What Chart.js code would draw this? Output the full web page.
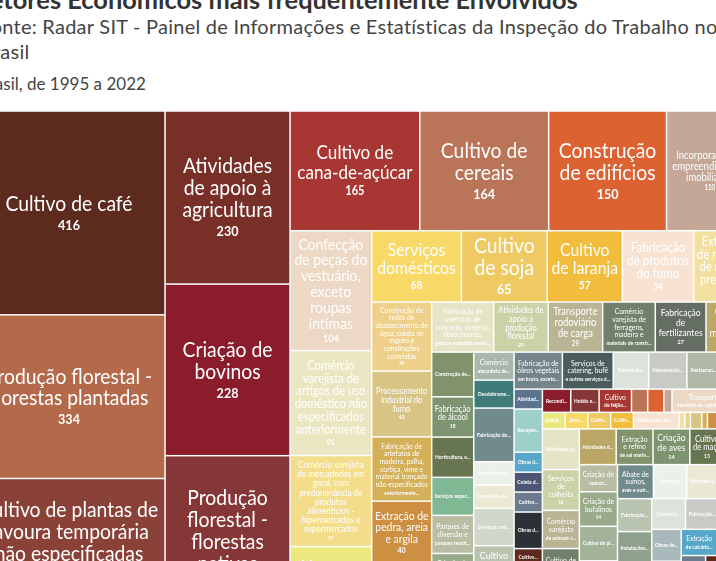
<!DOCTYPE html>
<html>
<head>
<meta charset="utf-8">
<title>Setores Econômicos mais frequentemente Envolvidos</title>
<script src="https://cdn.jsdelivr.net/npm/chart.js"></script>
<style>
  html, body { margin: 0; padding: 0; width: 716px; height: 561px; overflow: hidden; background: #fff; }
  body { position: relative; font-family: Lato, sans-serif; color: #333; }
  #title { position: absolute; left: -24px; top: -16px; font-size: 25.4px; font-weight: bold; white-space: nowrap; color: #333; }
  #sub { position: absolute; left: -20px; top: 14px; font-size: 20px; line-height: 24.5px; letter-spacing: 0.25px; white-space: nowrap; color: #444; }
  #note { position: absolute; left: -22px; top: 73px; font-size: 17px; white-space: nowrap; color: #444; }
  #wrap { position: absolute; left: -27px; top: 111px; width: 780px; height: 514px; }
</style>
</head>
<body>
<div id="title">Setores Econômicos mais frequentemente Envolvidos</div>
<div id="sub">Fonte: Radar SIT - Painel de Informações e Estatísticas da Inspeção do Trabalho no<br>Brasil</div>
<div id="note">Brasil, de 1995 a 2022</div>
<div id="wrap"><canvas id="tree" width="780" height="514"></canvas></div>
<script>
// sectors, in the order the chart lays them out
const sectors = [
  'Cultivo de café',
  'Produção florestal - florestas plantadas',
  'Cultivo de plantas de lavoura temporária não especificadas anteriormente',
  'Atividades de apoio à agricultura',
  'Criação de bovinos',
  'Produção florestal - florestas nativas',
  'Cultivo de cana-de-açúcar',
  'Cultivo de cereais',
  'Construção de edifícios',
  'Incorporação de empreendimentos imobiliários',
  'Confecção de peças do vestuário, exceto roupas íntimas',
  'Comércio varejista de artigos de uso doméstico não especificados anteriormente',
  'Comércio varejista de mercadorias em geral, com predominância de produtos alimentícios - hipermercados e supermercados',
  'Montagem de estruturas metálicas',
  'Serviços domésticos',
  'Cultivo de soja',
  'Cultivo de laranja',
  'Fabricação de produtos do fumo',
  'Extração de minério de metais preciosos',
  'Construção de redes de abastecimento de água, coleta de esgoto e construções correlatas',
  'Processamento industrial do fumo',
  'Fabricação de artefatos de madeira, palha, cortiça, vime e material trançado não especificados anteriormente',
  'Extração de pedra, areia e argila',
  'Cultivo de frutas de lavoura permanente, exceto laranja e uva',
  'Fabricação de artefatos de concreto, cimento, fibrocimento, gesso e materiais semelhantes',
  'Atividades de apoio à produção florestal',
  'Transporte rodoviário de carga',
  'Comércio varejista de ferragens, madeira e materiais de construção',
  'Fabricação de fertilizantes',
  'Cultivo de mandioca',
  'Construção de obras-de-arte especiais',
  'Fabricação de álcool',
  'Horticultura, exceto morango',
  'Serviços especializados para construção',
  'Parques de diversão e parques temáticos',
  'Criação de ovinos, inclusive para produção de lã',
  'Extração de madeira em florestas nativas',
  'Comércio atacadista de madeira e produtos derivados',
  'Desdobramento de madeira',
  'Fabricação de biocombustíveis, exceto álcool',
  'Comércio varejista de combustíveis para veículos automotores',
  'Comércio atacadista de combustíveis sólidos, líquidos e gasosos',
  'Serviços combinados de escritório e apoio administrativo',
  'Cultivo de milho',
  'Criação de equinos',
  'Fabricação de óleos vegetais em bruto, exceto óleo de milho',
  'Serviços de catering, bufê e outros serviços de comida preparada',
  'Fabricação de produtos cerâmicos não-refratários para uso estrutural na construção',
  'Manutenção e reparação de veículos automotores',
  'Restaurantes e similares',
  'Comércio atacadista de produtos alimentícios em geral',
  'Atividades de vigilância e segurança privada',
  'Recuperação de materiais não especificados anteriormente',
  'Obras de urbanização - ruas, praças e calçadas',
  'Coleta de resíduos não-perigosos',
  'Cultivo de algodão herbáceo',
  'Obras de fundações',
  'Cultivo de fumo',
  'Criação de caprinos',
  'Comércio atacadista de cereais e leguminosas beneficiados',
  'Pesca em água doce',
  'Recondicionamento e recuperação de motores para veículos automotores',
  'Hotéis e similares',
  'Cultivo de feijão',
  'Cultivo de arroz',
  'Construção de rodovias e ferrovias',
  'Aluguel de imóveis próprios',
  'Transporte marítimo de cabotagem',
  'Comércio varejista de hortifrutigranjeiros',
  'Comércio atacadista de café em grão',
  'Lanchonetes, casas de chá, de sucos e similares',
  'Limpeza em prédios e em domicílios',
  'Cultivo de cacau',
  'Cultivo de banana',
  'Fabricação de calçados de couro',
  'Extração de carvão mineral',
  'Serrarias com desdobramento de madeira',
  'Abate de reses, exceto suínos',
  'Fabricação de carvão vegetal',
  'Extração de cascalho',
  'Comércio de peças e acessórios para veículos automotores',
  'Atividades paisagísticas',
  'Serviços de colheita',
  'Comércio varejista de animais vivos',
  'Cultivo de eucalipto',
  'Construção de instalações esportivas e recreativas',
  'Atividades de apoio à pecuária',
  'Extração e refino de sal marinho',
  'Criação de aves',
  'Cultivo de maçã',
  'Fabricação de açúcar em bruto',
  'Criação de suínos',
  'Criação de bufalinos',
  'Cultivo de pimenta-do-reino',
  'Beneficiamento de arroz',
  'Fabricação de laticínios',
  'Abate de suínos, aves e outros pequenos animais',
  'Comércio atacadista de animais vivos',
  'Extração de granito e beneficiamento associado',
  'Cultivo de seringueira',
  'Fabricação de móveis com predominância de madeira',
  'Instalações elétricas',
  'Transporte rodoviário coletivo de passageiros',
  'Cultivo de mamão',
  'Comércio varejista de produtos alimentícios em geral',
  'Fabricação de embalagens de madeira',
  'Cultivo de erva-mate',
  'Obras de terraplenagem',
  'Criação de camarões em água salgada',
  'Pesca de peixes em água salgada',
  'Extração de calcário e dolomita',
  'Fabricação de móveis de outros materiais',
  'Cultivo de açaí',
  'Produção de carvão vegetal - florestas plantadas',
  'Moagem de trigo e fabricação de derivados',
  'Confecção de roupas profissionais',
  'Comércio varejista de bebidas',
  'Serviços de poda de árvores'
];

// number of operations per sector
const operacoes = [
  416, 334, 299, 230, 228, 225, 165, 164, 150, 110,
  104, 91, 79, 68, 68, 65, 57, 54, 45, 44,
  42, 41, 40, 39, 33, 29, 29, 28, 27, 25,
  20, 18, 18, 17, 17, 16, 16, 12, 12, 23,
  10, 10, 16, 17, 17, 19, 20, 14, 15, 13,
  13, 6, 13, 6, 6, 6, 11, 5, 5, 8,
  5, 7, 7, 8, 4, 4, 2, 16, 2, 2,
  4, 4, 4, 4, 8, 1, 1, 2, 1, 2,
  6, 16, 16, 15, 15, 15, 14, 14, 14, 13,
  11, 11, 14, 14, 13, 13, 13, 12, 12, 12,
  12, 12, 11, 11, 11, 11, 11, 10, 10, 10,
  10, 10, 9, 9, 9, 9, 9, 8
];

const palette = [
  '#5d2a1e', '#b3694a', '#8a4238', '#772f27', '#8a1c2c', '#853637', '#a83733', '#ba7558',
  '#dc6232', '#c4a797', '#ecd8c5', '#ebe6c2', '#f4dd8a', '#eae87f', '#f8d866', '#efca63',
  '#f2bd3d', '#f8e3d2', '#f2e0a1', '#efd08a', '#d8c585', '#d4b059', '#cd8f42', '#eeeed0',
  '#e6e4c6', '#cbd2a8', '#b8b494', '#727f6a', '#646e63', '#bba765', '#80936a', '#7d9470',
  '#687551', '#7fb892', '#b8bda3', '#9aab8c', '#a3b39a', '#a9b8ad', '#3f7b79', '#718a8c',
  '#ebf0ea', '#ebe9d5', '#d0d8c9', '#b9c4b0', '#8fa08c', '#73848a', '#4b5c5f', '#dce3dc',
  '#c7cac5', '#b0b8a8', '#a9b8bb', '#5c7390', '#9dd0cb', '#56a7c8', '#4b5574', '#6d7b8f',
  '#2b3134'
];

const W = 780, H = 514;
const FONT = 'Lato, sans-serif';
const SX = 0.9; // labels drawn a little narrower

// squarified treemap layout (rows kept while aspect ratio improves)
function squarify(vals, x0, y0, x1, y1) {
  const out = [];
  let value = vals.reduce((a, b) => a + b, 0);
  let i0 = 0;
  const n = vals.length;
  while (i0 < n) {
    const dx = x1 - x0, dy = y1 - y0;
    let i1 = i0;
    let sum = vals[i1++];
    let minV = sum, maxV = sum;
    const alpha = Math.max(dy / dx, dx / dy) / value;
    let beta = sum * sum * alpha;
    let minRatio = Math.max(maxV / beta, beta / minV);
    for (; i1 < n; ++i1) {
      const v = vals[i1];
      sum += v;
      if (v < minV) minV = v;
      if (v > maxV) maxV = v;
      beta = sum * sum * alpha;
      const r = Math.max(maxV / beta, beta / minV);
      if (r > minRatio) { sum -= v; break; }
      minRatio = r;
    }
    if (dx < dy) {
      const yb = y0 + dy * sum / value;
      let x = x0;
      for (let i = i0; i < i1; i++) {
        const xr = x + dx * vals[i] / sum;
        out[i] = {x0: x, y0: y0, x1: xr, y1: yb};
        x = xr;
      }
      y0 = yb;
    } else {
      const xb = x0 + dx * sum / value;
      let y = y0;
      for (let i = i0; i < i1; i++) {
        const yr = y + dy * vals[i] / sum;
        out[i] = {x0: x0, y0: y, x1: xb, y1: yr};
        y = yr;
      }
      x0 = xb;
    }
    value -= sum;
    i0 = i1;
  }
  return out;
}

class CellElement extends Chart.Element {
  draw(ctx) {
    const o = this.options;
    const g = o.borderWidth / 2;
    ctx.fillStyle = o.backgroundColor;
    ctx.fillRect(this.x + g, this.y + g, Math.max(0, this.w - 2 * g), Math.max(0, this.h - 2 * g));
  }
}
CellElement.id = 'cell';
CellElement.defaults = { backgroundColor: '#ccc', borderWidth: 1.5 };

const tw = (ctx, t) => ctx.measureText(t).width * SX;

function put(ctx, t, x, y) {
  ctx.save();
  ctx.translate(x, y);
  ctx.scale(SX, 1);
  ctx.fillText(t, 0, 0);
  ctx.restore();
}

function wrap(ctx, words, maxW) {
  const lines = [];
  let cur = '';
  for (const w of words) {
    const t = cur ? cur + ' ' + w : w;
    if (!cur || tw(ctx, t) <= maxW) cur = t;
    else { lines.push(cur); cur = w; }
  }
  if (cur) lines.push(cur);
  return lines;
}

function ellipsize(ctx, text, maxW) {
  if (tw(ctx, text) <= maxW) return text;
  for (let k = text.length - 1; k > 0; k--) {
    const t = text.slice(0, k).trimEnd() + '...';
    if (tw(ctx, t) <= maxW) return t;
  }
  return null;
}

function drawLabel(ctx, c, name, value) {
  const maxW = c.w - 2 * Math.min(6, Math.max(3, c.w * 0.05)), maxH = c.h - 8;
  if (maxW < 14 || maxH < 6) return;
  const words = name.split(' ');
  const cx = c.x + c.w / 2, cy = c.y + c.h / 2;
  ctx.save();
  ctx.fillStyle = '#fff';
  ctx.textAlign = 'center';
  ctx.textBaseline = 'middle';
  for (let f = 21.5; f >= 7.5; f -= 0.5) {
    ctx.font = f + 'px ' + FONT;
    if (words.some(w => tw(ctx, w) > maxW)) continue;
    const lines = wrap(ctx, words, maxW);
    const lh = f * 1.02, vf = f * 0.65;
    const total = lines.length * lh + vf * 1.3;
    if (total > maxH) continue;
    let y = cy - total / 2 + lh / 2;
    for (const l of lines) { put(ctx, l, cx, y); y += lh; }
    ctx.font = 'bold ' + vf + 'px ' + FONT;
    put(ctx, String(value), cx, y - lh / 2 + vf * 0.75);
    ctx.restore();
    return;
  }
  const f = 7.5, lh = 7.7, sf = 5.5;
  ctx.font = f + 'px ' + FONT;
  const fits = words.every(w => tw(ctx, w) <= maxW);
  const nAvail = Math.floor((maxH - sf * 1.3) / lh);
  if (fits && nAvail >= 1) {
    const lines = wrap(ctx, words, maxW);
    const shown = lines.slice(0, nAvail);
    const rest = lines.slice(nAvail).join(' ');
    const total = shown.length * lh + sf * 1.3;
    let y = cy - total / 2 + lh / 2;
    for (const l of shown) { put(ctx, l, cx, y); y += lh; }
    ctx.font = 'bold ' + sf + 'px ' + FONT;
    const t = ellipsize(ctx, rest + '...', maxW);
    if (t) put(ctx, t, cx, y - lh / 2 + sf * 0.8);
  } else if (maxH >= sf + 1) {
    ctx.font = 'bold ' + sf + 'px ' + FONT;
    const t = ellipsize(ctx, name, maxW);
    if (t) put(ctx, t, cx, cy);
  }
  ctx.restore();
}

class TreemapController extends Chart.DatasetController {
  update(mode) {
    const meta = this._cachedMeta;
    this.updateElements(meta.data, 0, meta.data.length, mode);
  }
  updateElements(cells, start, count, mode) {
    const {xScale, yScale} = this._cachedMeta;
    const boxes = squarify(this.getDataset().data, xScale.min, yScale.min, xScale.max, yScale.max);
    for (let i = start; i < start + count; i++) {
      const b = boxes[i];
      const px0 = xScale.getPixelForValue(b.x0), px1 = xScale.getPixelForValue(b.x1);
      const py0 = yScale.getPixelForValue(b.y0), py1 = yScale.getPixelForValue(b.y1);
      Object.assign(cells[i], {
        x: Math.min(px0, px1), y: Math.min(py0, py1),
        w: Math.abs(px1 - px0), h: Math.abs(py1 - py0),
        options: this.resolveDataElementOptions(i, mode)
      });
    }
  }
  draw() {
    const ctx = this.chart.ctx;
    const meta = this._cachedMeta;
    const labels = this.chart.data.labels;
    const data = this.getDataset().data;
    meta.data.forEach(c => c.draw(ctx));
    meta.data.forEach((c, i) => drawLabel(ctx, c, labels[i], data[i]));
  }
}
TreemapController.id = 'treemap';
TreemapController.defaults = { datasetElementType: false, dataElementType: 'cell' };

Chart.register(CellElement, TreemapController);

new Chart(document.getElementById('tree'), {
  type: 'treemap',
  data: {
    labels: sectors,
    datasets: [{
      label: 'Operações',
      data: operacoes,
      backgroundColor: sectors.map((s, i) => palette[i % palette.length])
    }]
  },
  options: {
    responsive: false,
    animation: false,
    events: [],
    layout: { padding: 0 },
    plugins: { legend: { display: false }, tooltip: { enabled: false } },
    scales: {
      x: { type: 'linear', min: 0, max: W, display: false },
      y: { type: 'linear', min: 0, max: H, reverse: true, display: false }
    }
  }
});
</script>
</body>
</html>
